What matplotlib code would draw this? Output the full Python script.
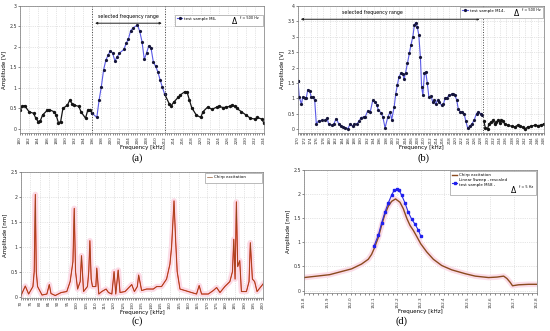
import numpy as np
import matplotlib
matplotlib.use("Agg")
from matplotlib import pyplot as plt
from matplotlib.patches import Rectangle

# (a) test sample M6, df = 500 Hz
freq_a = [180, 180.5, 181, 182, 183, 183.5, 184, 184.5, 185, 186, 186.5, 187.5, 188, 188.5,
          189, 189.5, 190.5, 191, 191.5, 192, 193, 193.5, 194.5, 195, 195.5, 196, 197, 197.5,
          198, 198.5, 199, 199.5, 200, 200.5, 201, 201.5, 202, 203, 203.5, 204, 204.5, 205,
          206, 206.5, 207, 207.5, 208, 208.5, 209, 209.5, 210, 210.5, 211, 211.5, 212, 213,
          213.5, 214, 215, 215.5, 216.5, 217, 217.5, 218, 219, 220, 220.5, 221.5, 222.5, 223.5,
          224, 225, 225.5, 226.5, 227, 227.5, 228, 229, 230, 231, 232, 232.5, 233.5, 234]
amp_a = [0.46, 0.55, 0.57, 0.42, 0.38, 0.26, 0.18, 0.2, 0.34, 0.45, 0.47, 0.42, 0.34, 0.15,
         0.18, 0.5, 0.58, 0.7, 0.62, 0.58, 0.55, 0.42, 0.26, 0.46, 0.46, 0.38, 0.28, 0.7,
         1.03, 1.44, 1.68, 1.8, 1.91, 1.85, 1.66, 1.76, 1.85, 1.94, 2.09, 2.2, 2.4, 2.46,
         2.54, 2.38, 2.13, 1.7, 1.85, 2.03, 1.97, 1.64, 1.53, 1.4, 1.2, 1.02, 0.85, 0.62,
         0.57, 0.65, 0.77, 0.83, 0.91, 0.89, 0.7, 0.52, 0.34, 0.28, 0.42, 0.53, 0.48, 0.53,
         0.55, 0.52, 0.53, 0.55, 0.58, 0.55, 0.5, 0.42, 0.34, 0.26, 0.24, 0.28, 0.24, 0.14]
range_a = [196, 212]
ticks_a = list(range(180, 236, 2))

# (b) test sample M14, df = 500 Hz
freq_b = [170.0, 170.4, 171.1, 171.5, 172.1, 172.6, 173.1, 173.7, 174.2, 174.7, 175.3, 175.8,
          176.5, 177.6, 178.6, 179.2, 179.7, 180.8, 181.4, 182.1, 182.9, 183.6, 184.4, 185.0,
          185.8, 186.5, 187.3, 187.9, 188.7, 189.4, 190.0, 190.8, 191.3, 192.1, 192.9, 193.7,
          194.5, 195.0, 195.5, 196.4, 196.9, 197.6, 198.5, 199.2, 199.7, 200.5, 201.0, 201.5,
          202.0, 202.7, 203.2, 203.6, 204.1, 204.7, 205.3, 205.8, 206.4, 206.9, 207.3, 207.8,
          208.3, 208.8, 209.2, 209.6, 210.1, 210.5, 211.0, 211.5, 212.2, 212.7, 213.2, 213.6,
          214.3, 214.8, 215.5, 216.1, 216.6, 217.3, 218.0, 218.7, 219.2, 219.7, 220.3, 220.8,
          221.5, 222.1, 222.7, 223.2, 223.8, 224.5, 225.2, 225.9, 226.6, 227.1, 227.9, 228.4,
          228.9, 229.4, 230.1, 230.6, 231.3, 231.9, 232.4, 232.9, 233.5, 234.0, 234.5, 235.0,
          235.6, 236.6, 237.7, 238.8, 239.6, 240.3, 241.4, 242.1, 242.9, 244.0, 245.0, 246.1,
          247.2, 248.0]
amp_b = [1.56, 1.05, 0.81, 1.05, 1.02, 1.0, 1.29, 1.24, 1.05, 1.05, 0.94, 0.18,
         0.27, 0.29, 0.29, 0.36, 0.18, 0.13, 0.18, 0.35, 0.18, 0.11, 0.08, 0.05,
         0.02, 0.16, 0.1, 0.16, 0.18, 0.27, 0.38, 0.4, 0.4, 0.6, 0.56, 0.94,
         0.89, 0.78, 0.62, 0.53, 0.4, 0.05, 0.4, 0.56, 0.31, 0.73, 1.16, 1.43,
         1.7, 1.83, 1.81, 1.63, 1.83, 2.14, 2.46, 2.73, 3.0, 3.38, 3.46, 3.33,
         3.06, 2.35, 1.36, 1.11, 1.83, 1.86, 1.49, 1.05, 1.07, 0.89, 0.94, 0.81,
         0.96, 0.89, 0.78, 0.81, 1.0, 1.03, 1.11, 1.13, 1.16, 1.11, 0.96, 0.67,
         0.56, 0.56, 0.49, 0.27, 0.04, 0.11, 0.18, 0.31, 0.51, 0.56, 0.51, 0.46,
         0.27, 0.05, 0.02, 0.18, 0.24, 0.29, 0.16, 0.24, 0.29, 0.21, 0.29, 0.27,
         0.16, 0.13, 0.1, 0.08, 0.13, 0.1, 0.06, 0.02, 0.08, 0.1, 0.13, 0.12,
         0.14, 0.18]
range_b = [170, 228.5]
ticks_b = list(range(170, 250, 2))

# (c) chirp excitation
freq_c = [70.0, 72.3, 74.1, 76.4, 77.1, 77.7, 78.2, 78.9, 81.3, 83.9, 85.2, 86.1, 88.4, 91.6,
          94.6, 96.4, 97.9, 98.6, 99.3, 100.4, 101.8, 102.5, 103.6, 105.7, 106.4, 107.0, 107.7,
          108.4, 110.2, 110.7, 111.8, 113.4, 115.7, 117.0, 118.8, 120.0, 120.9, 122.2, 123.2,
          125.9, 129.5, 130.9, 132.5, 133.2, 134.8, 137.5, 141.1, 142.9, 145.5, 148.2, 150.0,
          150.9, 152.2, 153.1, 153.9, 155.4, 158.1, 161.6, 164.3, 165.7, 167.0, 170.6, 173.3,
          175.1, 176.9, 179.5, 182.2, 183.6, 184.3, 185.0, 185.7, 186.4, 187.5, 188.4, 191.1,
          192.5, 193.2, 194.3, 195.5, 196.8, 200.0]
amp_c = [0.02, 0.21, 0.05, 0.2, 0.5, 2.05, 0.5, 0.2, 0.03, 0.05, 0.24, 0.06, 0.02, 0.08,
         0.1, 0.3, 0.7, 1.77, 0.5, 0.15, 0.3, 0.82, 0.1, 0.2, 0.5, 1.12, 0.35,
         0.2, 0.2, 0.57, 0.05, 0.1, 0.15, 0.08, 0.05, 0.5, 0.05, 0.53, 0.08,
         0.1, 0.24, 0.1, 0.2, 0.43, 0.12, 0.15, 0.15, 0.2, 0.2, 0.35, 0.65,
         1.0, 1.92, 1.1, 0.5, 0.15, 0.12, 0.08, 0.05, 0.22, 0.05, 0.05, 0.12,
         0.18, 0.08, 0.2, 0.3, 0.5, 1.15, 0.35, 1.9, 0.6, 0.72, 0.1, 0.1,
         0.3, 1.08, 0.35, 0.3, 0.1, 0.25]
ticks_c = list(range(70, 205, 5))

# (d) chirp excitation vs linear sweep (test sample M58, df = 5 Hz)
freq_d = [151.800, 151.910, 152.004, 152.047, 152.076, 152.090, 152.101, 152.119, 152.133,
          152.147, 152.162, 152.176, 152.193, 152.212, 152.226, 152.241, 152.255, 152.269,
          152.284, 152.301, 152.327, 152.355, 152.391, 152.434, 152.492, 152.535, 152.592,
          152.628, 152.657, 152.671, 152.685, 152.695, 152.721, 152.764, 152.800]
amp_d = [0.27, 0.33, 0.45, 0.55, 0.65, 0.75, 0.87, 1.1, 1.35,
         1.58, 1.75, 1.85, 1.9, 1.83, 1.7, 1.5, 1.35, 1.25,
         1.12, 0.97, 0.8, 0.65, 0.52, 0.43, 0.35, 0.3, 0.27,
         0.28, 0.3, 0.25, 0.17, 0.1, 0.12, 0.13, 0.13]
freq_sweep = [152.101, 152.119, 152.133, 152.147, 152.162, 152.176, 152.187, 152.197,
              152.208, 152.219, 152.233, 152.248, 152.262, 152.276, 152.291, 152.301]
amp_sweep = [0.93, 1.15, 1.4, 1.62, 1.82, 1.98, 2.08, 2.1,
             2.08, 1.98, 1.82, 1.62, 1.48, 1.38, 1.25, 1.13]
ticks_d = [151.8, 151.9, 152.0, 152.1, 152.2, 152.3, 152.4, 152.5, 152.6, 152.7, 152.8]

W, H = 550, 331
fig = plt.figure(figsize=(5.5, 3.31), dpi=100)


def box(x0, y0, x1, y1):
    # pixel box -> figure fraction
    return [x0 / W, 1 - y1 / H, (x1 - x0) / W, (y1 - y0) / H]


def style(ax, xticks, yticks, ylabel, fmt):
    ax.set_xticks(xticks)
    ax.set_xticklabels([fmt(t) for t in xticks], rotation=90, fontsize=3.0)
    ax.set_yticks(yticks)
    ax.set_yticklabels(['%g' % t for t in yticks], fontsize=3.4)
    ax.minorticks_on()
    ax.tick_params(which='both', length=1.2, width=0.4, pad=1.0, colors='#333333')
    ax.tick_params(axis='y', which='minor', length=0)
    ax.grid(True, which='major', color='#cccccc', linestyle=':', linewidth=0.5)
    ax.set_xlabel('Frequency [kHz]', fontsize=4.0, labelpad=1)
    ax.set_ylabel(ylabel, fontsize=4.0, labelpad=2)
    for s in ax.spines.values():
        s.set_linewidth(0.5)
        s.set_color('#777777')


def legend(ax, handles, labels, x0, x1, y0, y1):
    # own frame, legend drawn without one on top of it
    ax.add_patch(Rectangle((x0, y0), x1 - x0, y1 - y0, transform=ax.transAxes, fc='white',
                           ec='#888888', lw=0.4, zorder=5))
    lg = ax.legend(handles, labels, loc='upper left', bbox_to_anchor=(x0, y1), frameon=False,
                   fontsize=2.9, handlelength=1.3, handletextpad=0.5, borderpad=0.5,
                   borderaxespad=0, labelspacing=0.3)
    lg.set_zorder(6)


def delta(ax, x, y, txt):
    ax.text(x, y, r'$\Delta$', transform=ax.transAxes, fontsize=5.5, ha='left', va='center',
            zorder=10)
    ax.text(x + 0.036, y + 0.018, txt, transform=ax.transAxes, fontsize=2.5, ha='left',
            va='center', zorder=10)


def split_plot(ax, f, a, lo, hi):
    f, a = np.array(f), np.array(a)
    inside = (f >= lo) & (f <= hi)
    for m in (f <= lo, f >= hi):
        if m.sum() > 0:
            ax.plot(f[m], a[m], color='#141414', lw=0.9, marker='o', ms=1.4)
    h, = ax.plot(f[inside], a[inside], color='#5a5ae6', lw=0.8, marker='o', ms=1.3,
                 mfc='#15153a', mec='#15153a')
    return h


# ---- (a)
ax = fig.add_axes(box(20, 6, 264, 133))
hA = split_plot(ax, freq_a, amp_a, range_a[0], range_a[1])
for xv in range_a:
    ax.axvline(xv, color='#444444', ls=':', lw=0.7)
ax.annotate('', xy=(range_a[0], 2.58), xytext=(range_a[1], 2.58),
            arrowprops=dict(arrowstyle='<|-|>', color='#222222', lw=0.7, mutation_scale=3))
ax.text(sum(range_a) / 2, 2.74, 'selected frequency range', fontsize=3.4, ha='center', va='center')
ax.set_xlim(180, 234)
ax.set_ylim(-0.1, 3)
style(ax, ticks_a, np.arange(0, 3.01, 0.5), 'Amplitude [V]', lambda t: '%d' % t)
legend(ax, [hA], ['test sample M6,'], 0.635, 0.996, 0.84, 0.93)
delta(ax, 0.865, 0.885, 'f = 500 Hz')
fig.text(137 / W, 1 - 158 / H, '(a)', fontsize=7.5, family='Liberation Serif',
         ha='center', va='center')

# ---- (b)
ax = fig.add_axes(box(298, 6, 544, 133))
hB = split_plot(ax, freq_b, amp_b, range_b[0], range_b[1])
ax.axvline(range_b[1], color='#444444', ls=':', lw=0.7)
ax.annotate('', xy=(range_b[0], 3.57), xytext=(range_b[1], 3.57),
            arrowprops=dict(arrowstyle='<|-|>', color='#222222', lw=0.7, mutation_scale=3))
ax.text(193.5, 3.78, 'selected frequency range', fontsize=3.4, ha='center', va='center')
ax.set_xlim(170, 248)
ax.set_ylim(-0.12, 4)
style(ax, ticks_b, np.arange(0, 4.01, 0.5), 'Amplitude [V]', lambda t: '%d' % t)
legend(ax, [hB], ['test sample M14,'], 0.66, 0.996, 0.905, 0.995)
delta(ax, 0.875, 0.95, 'f = 500 Hz')
fig.text(423 / W, 1 - 158 / H, '(b)', fontsize=7.5, family='Liberation Serif',
         ha='center', va='center')

# ---- (c)
ax = fig.add_axes(box(21, 172, 263, 298))
ax.plot(freq_c, amp_c, color='#fbdbe6', lw=4)
ax.plot(freq_c, amp_c, color='#ee3322', lw=0.8)
hC, = ax.plot(freq_c, amp_c, color='#8a4a1e', lw=0.45)
ax.set_xlim(70, 200)
ax.set_ylim(-0.03, 2.5)
style(ax, ticks_c, np.arange(0, 2.51, 0.5), 'Amplitude [nm]', lambda t: '%d' % t)
legend(ax, [hC], ['Chirp excitation'], 0.76, 0.995, 0.915, 0.99)
fig.text(137 / W, 1 - 321 / H, '(c)', fontsize=7.5, family='Liberation Serif',
         ha='center', va='center')

# ---- (d)
ax = fig.add_axes(box(304, 170, 537, 293))
ax.plot(freq_d, amp_d, color='#fbdde8', lw=4)
hD, = ax.plot(freq_d, amp_d, color='#8a4a1e', lw=1.0)
hS, = ax.plot(freq_sweep, amp_sweep, color='#2a2ae0', lw=0.8, marker='s', ms=1.8,
              mfc='#2020ee', mec='#2020ee')
ax.set_xlim(151.8, 152.8)
ax.set_ylim(-0.05, 2.5)
style(ax, ticks_d, np.arange(0, 2.51, 0.5), 'Amplitude [nm]', lambda t: '%.1f' % t)
legend(ax, [hD, hS], ['Chirp excitation', 'Linear Sweep , rescaled\ntest sample M58 ,'],
       0.627, 0.996, 0.8, 0.99)
delta(ax, 0.885, 0.845, 'f = 5 Hz')
fig.text(401 / W, 1 - 321 / H, '(d)', fontsize=7.5, family='Liberation Serif',
         ha='center', va='center')

fig.savefig('out.png', dpi=100)
